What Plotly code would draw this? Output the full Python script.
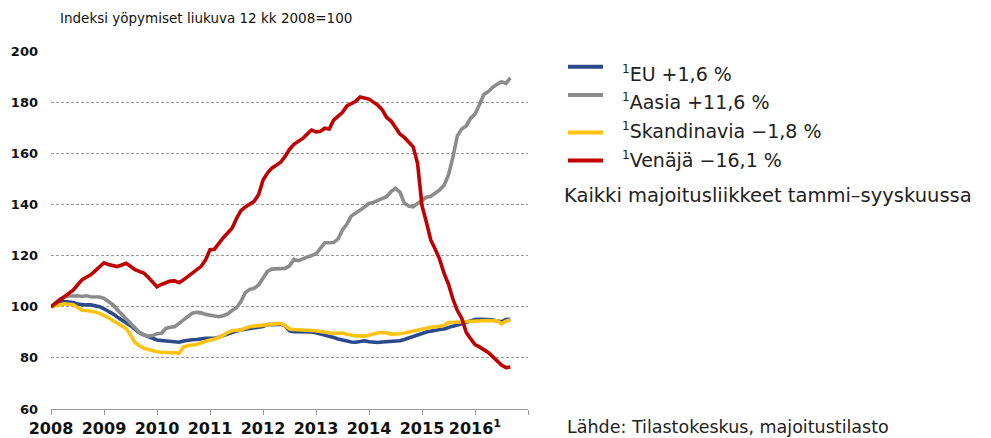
import plotly.graph_objects as go

# ---------------- data (monthly, Jan 2008 .. Sep 2016, index 2008 = 100) ----------------
start_year = 2008
eu = [100, 101, 101.6, 102, 101.8, 101.6, 101, 100.7, 100.7, 100.7, 100.4, 100,
      99.2, 98.3, 97.2, 96, 95, 94, 92.6, 91.2, 89.8, 89, 88.4, 87.8,
      87, 86.8, 86.6, 86.4, 86.2, 86.1, 86.6, 87, 87.1, 87.2, 87.5, 87.6,
      87.6, 87.6, 88.1, 88.7, 89.4, 90.1, 90.5, 90.9, 91.2, 91.4, 91.5, 91.8,
      92.3, 93, 93.1, 93.1, 93.1, 92.5, 90.6, 90.2, 90.2, 90.2, 90.2, 90.1,
      89.8, 89.4, 88.9, 88.6, 88, 87.4, 87, 86.5, 86.2, 86.1, 86.5, 86.7,
      86.3, 86, 86, 86.2, 86.3, 86.3, 86.3, 86.7, 87.2, 87.7, 88.2, 88.8,
      89.5, 90.1, 90.5, 90.8, 91.1, 91.3, 92, 92.4, 92.8, 93.3, 93.8, 94.4,
      95, 95.1, 95.2, 95, 94.8, 94.6, 94.1, 95, 95.1]
aasia = [100, 101.5, 103, 103.8, 104.2, 104.2, 104.3, 104, 104.3, 103.9, 104, 103.8,
         103.3, 102.2, 100.8, 98.8, 97, 95.3, 93.5, 91.5, 90, 89, 88.5, 88.7,
         89.4, 89.6, 91.5, 92, 92.2, 93.5, 94.8, 96.2, 97.5, 97.8, 97.6, 97,
         96.8, 96.5, 96.1, 96.5, 97.2, 98.5, 99.6, 102, 105.5, 106.8, 107.2, 108.5,
         111.1, 113.8, 114.7, 114.8, 114.9, 115, 116, 118.5, 118, 118.8, 119.4, 120,
         120.7, 122.8, 125, 125, 125.1, 126.5, 130, 132.3, 135.5, 136.6, 137.6, 139,
         140.4, 140.8, 141.6, 142.3, 143, 145, 146.3, 144.8, 140.5, 139.4, 139.1, 140.4,
         141.5, 142.8, 143.2, 144.3, 145.7, 147.5, 151.5, 158.5, 166.8, 169.5, 170.7, 173.7,
         175.3, 179, 183, 184.1, 185.8, 187, 188, 187.3, 189.5]
skandinavia = [100, 100.5, 100.8, 101.1, 101, 100.8, 99.8, 98.6, 98.5, 98.3, 97.9, 97.4,
               96.6, 95.7, 94.6, 93.6, 92.7, 91.5, 89, 86, 84.8, 83.8, 83.3, 82.8,
               82.4, 82.2, 82, 82, 82.1, 81.8, 84.2, 84.8, 85, 85.2, 85.9, 86.5,
               87, 87.3, 88, 88.8, 89.9, 90.6, 90.8, 90.9, 91.6, 92.2, 92.4, 92.6,
               92.8, 93.1, 93.3, 93.5, 93.5, 92.6, 91.3, 91.1, 91, 91, 90.9, 90.9,
               90.6, 90.3, 89.9, 89.8, 89.6, 89.8, 89.7, 89.2, 88.8, 88.6, 88.6, 88.5,
               88.8, 89.3, 89.8, 89.9, 89.8, 89.3, 89.2, 89.4, 89.7, 90.1, 90.5, 90.8,
               91.2, 91.8, 92, 92.1, 92.5, 92.7, 93.8, 93.9, 94, 94.1, 94.3, 94.4,
               94.5, 94.7, 94.8, 94.6, 94.5, 94.5, 93.3, 94.3, 94.8]
venaja = [100, 101.3, 102.6, 103.9, 105.4, 106.5, 108.5, 110.5, 111.5, 112.5, 114, 115.5,
          117.2, 116.5, 116, 115.7, 116.3, 117, 115.8, 114.5, 113.8, 113.2, 111.5, 109.5,
          107.8, 108.7, 109.5, 110, 110.1, 109.4, 110.5, 111.8, 113.2, 114.2, 115.8, 118.3,
          122.3, 122.5, 124.8, 127, 128.8, 130.7, 134.5, 137.6, 139, 140, 141.2, 143.8,
          149.5, 152.3, 154.2, 155.3, 156.5, 158.8, 161.5, 163.5, 164.7, 165.8, 167.5, 169.1,
          168.4, 168.6, 169.8, 169.5, 173, 174.5, 176, 178.5, 179.6, 180.3, 182, 181.6,
          181.2, 180, 178.8, 177, 174, 172.6, 170, 167.5, 166.2, 164.5, 162.5, 156,
          139.5, 133, 126, 122.5, 118.5, 113, 108.8, 103, 98.5, 95.5, 90, 87.5,
          85.2, 84.3, 83.2, 82.1, 80.5, 78.6, 77.2, 76.2, 76.4]

series_names = ["EU +1,6 %", "Aasia +11,6 %", "Skandinavia \u22121,8 %", "Ven\u00e4j\u00e4 \u221216,1 %"]
series_colors = ["#2B4A8B", "#8C8C8C", "#FFC20E", "#C00000"]
tick_years = list(range(2008, 2018))
tick_text = [str(y) for y in range(2008, 2016)] + ["2016<sup>1</sup>", ""]
y_ticks = [60, 80, 100, 120, 140, 160, 180, 200]

months = [start_year + i / 12 for i in range(len(eu))]

# ---------------- layout geometry ----------------
W, H = 991, 438
L, R, T, B = 51, 463, 51, 29
PW, PH = W - L - R, H - T - B


def px(x):
    return (x - L) / PW


def py(y):
    return (H - B - y) / PH


FONT = "DejaVu Sans"

fig = go.Figure()
draw_order = [0, 2, 1, 3]
all_series = [eu, aasia, skandinavia, venaja]
for k in draw_order:
    fig.add_trace(go.Scatter(
        x=months, y=all_series[k], mode="lines", name=series_names[k],
        line=dict(color=series_colors[k], width=3.6), showlegend=False,
        hoverinfo="skip"))

# manual legend
legend_line_y = [66.7, 95.0, 132.5, 160.5]
legend_text_y = [73.0, 101.5, 130.0, 159.5]
shapes = []
annotations = []
for k in range(4):
    shapes.append(dict(type="line", xref="paper", yref="paper",
                       x0=px(568), x1=px(603), y0=py(legend_line_y[k]), y1=py(legend_line_y[k]),
                       line=dict(color=series_colors[k], width=4)))
    annotations.append(dict(xref="paper", yref="paper", x=px(620), y=py(legend_text_y[k]),
                            xanchor="left", yanchor="middle", showarrow=False,
                            text="<sup><span style='font-size:12px'>1</span></sup>" + series_names[k],
                            font=dict(family=FONT, size=19, color="#222222")))

annotations.append(dict(xref="paper", yref="paper", x=px(562), y=py(195),
                        xanchor="left", yanchor="middle", showarrow=False,
                        text="Kaikki majoitusliikkeet tammi\u2013syyskuussa",
                        font=dict(family=FONT, size=19.5, color="#222222")))
annotations.append(dict(xref="paper", yref="paper", x=px(565), y=py(427),
                        xanchor="left", yanchor="middle", showarrow=False,
                        text="L\u00e4hde: Tilastokeskus, majoitustilasto",
                        font=dict(family=FONT, size=17.5, color="#222222")))
annotations.append(dict(xref="paper", yref="paper", x=px(58), y=py(18),
                        xanchor="left", yanchor="middle", showarrow=False,
                        text="Indeksi y\u00f6pymiset liukuva 12 kk 2008=100",
                        font=dict(family=FONT, size=13.5, color="#111111")))

fig.update_layout(
    width=W, height=H,
    margin=dict(l=L, r=R, t=T, b=B, pad=0, autoexpand=False),
    paper_bgcolor="white", plot_bgcolor="white",
    showlegend=False,
    shapes=shapes, annotations=annotations,
    xaxis=dict(range=[2008, 2017], tickmode="array", tickvals=tick_years, ticktext=tick_text,
               showgrid=False, zeroline=False, showline=True, linecolor="#999999", linewidth=1,
               ticks="outside", ticklen=5, tickcolor="#999999", tickwidth=1,
               tickfont=dict(family=FONT, size=16, color="#111111", weight="bold"),
               automargin=False, fixedrange=True),
    yaxis=dict(range=[60, 200], tickmode="array", tickvals=y_ticks,
               showgrid=True, gridcolor="#9A9A9A", gridwidth=1, griddash="3px,2px",
               zeroline=False, showline=False, ticks="", ticklabelstandoff=12,
               tickfont=dict(family=FONT, size=13, color="#111111", weight="bold"),
               automargin=False, fixedrange=True),
)

fig.write_html("out.html", config={"displayModeBar": False},
               post_script="document.body.style.margin='0';document.body.style.overflow='hidden';")
